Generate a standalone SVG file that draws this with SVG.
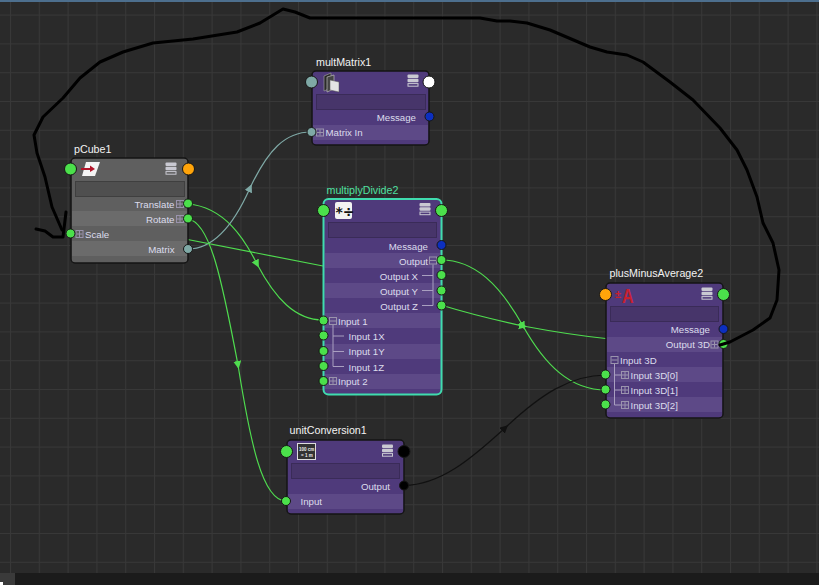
<svg xmlns="http://www.w3.org/2000/svg" xmlns:xlink="http://www.w3.org/1999/xlink" width="819" height="585" viewBox="0 0 819 585">
<style>
text{font-family:"Liberation Sans",Arial,sans-serif;font-size:9.7px;fill:#dcdcec}
.title{font-size:10.7px;fill:#f2f2f2}
.r{text-anchor:end}
.body{fill:#4f3a7b;stroke:#141414;stroke-width:1.5}
.lp{fill:#5d4987}
.lg{fill:#6b6b6b}
.field{fill:#47356a;stroke:#3a2b58;stroke-width:1}
.fieldg{fill:#4f4f4f;stroke:#3f3f3f;stroke-width:1}
.p{stroke:#161616;stroke-width:1}
.g{fill:#4be04b}.o{fill:#ffa40a}.t{fill:#7fa9a6}.b{fill:#0c2fbf}.w{fill:#fff}.k{fill:#000}
.tree{fill:none;stroke:#a99fc0;stroke-width:1}
.x{fill:none;stroke:#9a93ad;stroke-width:1}
.c{fill:none;stroke-width:1.2}
.cg{stroke:#4fdc4f}.ct{stroke:#7fa9a6}.ck{stroke:#111}
.hand{fill:none;stroke:#000;stroke-width:3;stroke-linejoin:round;stroke-linecap:round}
</style>
<defs>
<pattern id="grid" width="28.8" height="28.8" patternUnits="userSpaceOnUse" x="10" y="14.6">
<path d="M0.5,0V28.8M0,0.5H28.8" stroke="#383838" stroke-width="1" fill="none"/>
</pattern>
<marker id="ag" markerWidth="10" markerHeight="10" refX="4" refY="4" orient="auto" markerUnits="userSpaceOnUse"><path d="M0,0L8,4L0,8Z" fill="#4fdc4f"/></marker>
<marker id="at" markerWidth="10" markerHeight="10" refX="4" refY="4" orient="auto" markerUnits="userSpaceOnUse"><path d="M0,0L8,4L0,8Z" fill="#7fa9a6"/></marker>
<marker id="ak" markerWidth="10" markerHeight="10" refX="4" refY="4" orient="auto" markerUnits="userSpaceOnUse"><path d="M0,0L8,4L0,8Z" fill="#111"/></marker>
<g id="plus"><rect x="-3.5" y="-3.5" width="7" height="7" class="x"/><path d="M-3,0H3M0,-3V3" class="x"/></g>
<g id="minus"><rect x="-3.5" y="-3.5" width="7" height="7" class="x"/><path d="M-3,0H3" class="x"/></g>
<g id="menu"><rect x="-5.5" y="-6.5" width="11" height="3.4" rx="1" fill="#c9c9d2"/><rect x="-5.5" y="-2.2" width="11" height="3.4" rx="1" fill="#c9c9d2"/><rect x="-5" y="2.6" width="10" height="2.6" fill="none" stroke="#c9c9d2" stroke-width="1"/></g>
</defs>
<rect width="819" height="585" fill="#2a2a2a"/>
<rect width="819" height="585" fill="url(#grid)"/>
<rect width="819" height="2" fill="#4d6f8e"/>
<rect y="573" width="819" height="12" fill="#1b1b1b"/>
<rect y="573" width="15" height="12" fill="#3a3a3a"/>
<rect y="582" width="3" height="3" fill="#fff"/>

<g id="connectors">
<path class="c cg" marker-mid="url(#ag)" d="M188,204C225,207 245,240 257,264C275,298 295,320 323,320"/>
<path class="c cg" marker-mid="url(#ag)" d="M188,219C210,222 222,280 238,365C250,440 262,501 286,501"/>
<path class="c ct" marker-mid="url(#at)" d="M188,249C215,249 235,222 250,188C268,150 285,132 311,132"/>
<path class="c cg" d="M180,238L323,266"/>
<path class="c cg" marker-mid="url(#ag)" d="M441,305C470,314 500,321 523,326C555,332 580,336 610,339"/>
<path class="c cg" marker-mid="url(#ag)" d="M441,260C475,260 500,285 523,326C545,365 570,390 606,390"/>
<path class="c ck" marker-mid="url(#ak)" d="M404,485.5C440,485 470,460 505,428C540,395 570,375 606,375"/>
</g>

<g id="pCube1">
<text class="title" x="74" y="153">pCube1</text>
<rect class="body" style="fill:#5f5f5f" x="71" y="158" width="117" height="105" rx="4"/>
<rect class="lg" x="72" y="211" width="115" height="15"/>
<rect class="lg" x="72" y="241" width="115" height="15"/>
<rect class="fieldg" x="75.500" y="181.500" width="109" height="15"/>
<path d="M86,162H100L95,176H82Z" fill="#f4f4f4"/>
<path d="M81,169H92" stroke="#b3152a" stroke-width="2"/><path d="M90,165.500L95,169L90,172Z" fill="#b3152a"/>
<use xlink:href="#menu" href="#menu" x="171" y="169"/>
<text class="r" x="174.500" y="207.500">Translate</text>
<use xlink:href="#plus" href="#plus" x="180" y="204"/>
<text class="r" x="174.500" y="222.500">Rotate</text>
<use xlink:href="#plus" href="#plus" x="180" y="219"/>
<use xlink:href="#plus" href="#plus" x="79.500" y="234"/>
<text x="85" y="237.500">Scale</text>
<text class="r" x="174.500" y="253">Matrix</text>
<circle class="p g" cx="70.500" cy="169" r="6"/>
<circle class="p o" cx="188.500" cy="169" r="6"/>
<circle class="p g" cx="188" cy="203.500" r="4.500"/>
<circle class="p g" cx="188" cy="218.500" r="4.500"/>
<circle class="p g" cx="70.500" cy="233.500" r="4.500"/>
<circle class="p t" cx="188" cy="249" r="4.500"/>
</g>

<g id="multMatrix1">
<text class="title" x="316" y="66">multMatrix1</text>
<rect class="body" x="312" y="71" width="117" height="74" rx="4"/>
<rect class="lp" x="313" y="125" width="115" height="15"/>
<rect class="field" x="316.500" y="94.500" width="109" height="15"/>
<path d="M324,76L331,73V88L324,91Z" fill="#2a2a2a" stroke="#999" stroke-width="0.700"/>
<path d="M327,77L334,75V89L327,92Z" fill="#444" stroke="#bbb" stroke-width="0.700"/>
<path d="M330,80L339,82V92L330,90Z" fill="#e4e4e4" stroke="#555" stroke-width="0.500"/>
<use xlink:href="#menu" href="#menu" x="413" y="81"/>
<text class="r" x="416" y="120.500">Message</text>
<use xlink:href="#plus" href="#plus" x="320" y="132.500"/>
<text x="325.500" y="135.500">Matrix In</text>
<circle class="p t" cx="311.500" cy="82" r="6"/>
<circle class="p w" cx="429" cy="82" r="6"/>
<circle class="p b" cx="429.500" cy="116.500" r="4.500"/>
<circle class="p t" cx="311.500" cy="132" r="4.500"/>
</g>

<g id="multiplyDivide2">
<text class="title" x="326.500" y="194" style="fill:#4fe0a0">multiplyDivide2</text>
<rect x="323.500" y="199" width="118" height="195.500" rx="5" fill="#4f3a7b" stroke="#3fdcae" stroke-width="2"/>
<rect class="lp" x="325" y="253" width="115" height="15"/>
<rect class="lp" x="325" y="283" width="115" height="15"/>
<rect class="lp" x="325" y="313" width="115" height="15"/>
<rect class="lp" x="325" y="344" width="115" height="15"/>
<rect class="lp" x="325" y="374" width="115" height="15"/>
<rect class="field" x="328.500" y="222.500" width="108" height="15"/>
<rect x="335" y="202" width="17" height="17" rx="2" fill="#f2f2f2"/>
<text x="335.500" y="217" style="font-family:'DejaVu Sans',sans-serif;font-size:14px;font-weight:bold;fill:#111">*÷</text>
<use xlink:href="#menu" href="#menu" x="425" y="209.500"/>
<text class="r" x="428" y="249.500">Message</text>
<text class="r" x="428" y="264.500">Output</text>
<use xlink:href="#minus" href="#minus" x="433" y="260.500"/>
<text class="r" x="418" y="279.500">Output X</text>
<text class="r" x="418" y="294.500">Output Y</text>
<text class="r" x="418" y="309.500">Output Z</text>
<path class="tree" d="M433,264.500V305.500M422,275.500H433M422,290.500H433M422,305.500H433"/>
<use xlink:href="#minus" href="#minus" x="333" y="321"/>
<text x="338" y="324.500">Input 1</text>
<text x="348.500" y="340">Input 1X</text>
<text x="348.500" y="355">Input 1Y</text>
<text x="348.500" y="370.500">Input 1Z</text>
<path class="tree" d="M333,325V366.500M333,336H344M333,351.500H344M333,366.500H344"/>
<use xlink:href="#plus" href="#plus" x="333" y="381"/>
<text x="338" y="385">Input 2</text>
<circle class="p g" cx="323.500" cy="210.500" r="6"/>
<circle class="p g" cx="441.500" cy="210.500" r="6"/>
<circle class="p b" cx="441.500" cy="245" r="4.500"/>
<circle class="p g" cx="441.500" cy="260" r="4.500"/>
<circle class="p g" cx="441.500" cy="275" r="4.500"/>
<circle class="p g" cx="441.500" cy="290.500" r="4.500"/>
<circle class="p g" cx="441.500" cy="305.500" r="4.500"/>
<circle class="p g" cx="323.500" cy="320.500" r="4.500"/>
<circle class="p g" cx="323.500" cy="335.500" r="4.500"/>
<circle class="p g" cx="323.500" cy="351" r="4.500"/>
<circle class="p g" cx="323.500" cy="366" r="4.500"/>
<circle class="p g" cx="323.500" cy="381" r="4.500"/>
</g>

<g id="plusMinusAverage2">
<text class="title" x="609.500" y="277">plusMinusAverage2</text>
<rect class="body" x="606" y="283" width="117" height="135" rx="4"/>
<rect class="lp" x="607" y="337" width="115" height="15"/>
<rect class="lp" x="607" y="367" width="115" height="15"/>
<rect class="lp" x="607" y="397" width="115" height="15"/>
<rect class="field" x="610.500" y="306.500" width="108" height="15"/>
<text x="615" y="298" style="font-size:11px;font-weight:bold;fill:#c8202e">±</text>
<text transform="translate(622,303) scale(0.8,1)" style="font-size:20px;font-weight:bold;fill:#c8202e">A</text>
<use xlink:href="#menu" href="#menu" x="707" y="294"/>
<text class="r" x="710" y="348">Output 3D</text>
<text class="r" x="710" y="333">Message</text>
<use xlink:href="#plus" href="#plus" x="714.500" y="344.500"/>
<use xlink:href="#minus" href="#minus" x="614.500" y="360"/>
<text x="620" y="363.500">Input 3D</text>
<use xlink:href="#plus" href="#plus" x="625" y="375"/>
<text x="630.500" y="378.500">Input 3D[0]</text>
<use xlink:href="#plus" href="#plus" x="625" y="390"/>
<text x="630.500" y="393.500">Input 3D[1]</text>
<use xlink:href="#plus" href="#plus" x="625" y="405"/>
<text x="630.500" y="408.500">Input 3D[2]</text>
<path class="tree" d="M614.500,364V405H621M614.500,375H621M614.500,390H621"/>
<circle class="p o" cx="605.500" cy="294.500" r="6"/>
<circle class="p g" cx="723.500" cy="294.500" r="6"/>
<circle class="p b" cx="723.500" cy="329" r="4.500"/>
<circle class="p g" cx="723.500" cy="344" r="4.500"/>
<circle class="p g" cx="605.500" cy="374.500" r="4.500"/>
<circle class="p g" cx="605.500" cy="389.500" r="4.500"/>
<circle class="p g" cx="605.500" cy="404.500" r="4.500"/>
</g>

<g id="unitConversion1">
<text class="title" x="289.500" y="434">unitConversion1</text>
<rect class="body" x="287" y="440" width="117" height="74" rx="4"/>
<rect class="lp" x="288" y="494" width="115" height="15"/>
<rect class="field" x="291.500" y="463.500" width="108" height="15"/>
<rect x="297.500" y="443.500" width="18" height="16" fill="#333" stroke="#ddd" stroke-width="1"/>
<text x="299" y="450.500" style="font-size:4.500px;font-weight:bold;fill:#eee">100 cm</text>
<text x="301" y="456.500" style="font-size:4.500px;font-weight:bold;fill:#eee">= 1 m</text>
<use xlink:href="#menu" href="#menu" x="387.500" y="451"/>
<text class="r" x="390" y="490">Output</text>
<text x="300.500" y="505">Input</text>
<circle class="p g" cx="286.500" cy="451.500" r="6"/>
<circle class="p k" cx="404" cy="451.500" r="6"/>
<circle class="p k" cx="404" cy="485.500" r="4.500"/>
<circle class="p g" cx="286" cy="501" r="4.500"/>
</g>

<g id="annotation">
<polyline class="hand" points="720,345 730,342 753,330 770,318 777,300 779,270 773,243 763,223 757,197 747,170 737,150 720,128 693,100 670,82 643,62 627,55 607,52 590,47 550,30 527,23 510,21 497,21 480,18 310,18 295,12 283,9 260,23 237,32 193,39 153,43 123,52 100,62 80,78 63,98 43,117 34,135 37,153 45,177 52,207 62,230"/>
<polyline class="hand" points="36,229 45,231 53,237 63,237 66,212"/>
</g>
</svg>
